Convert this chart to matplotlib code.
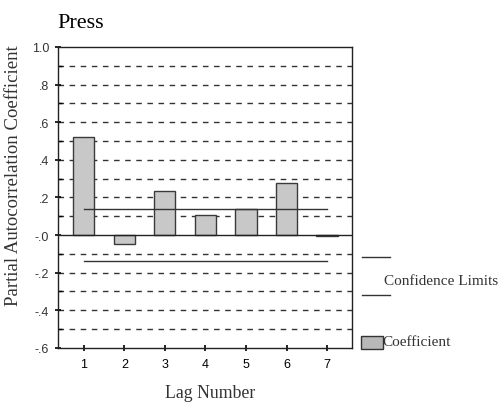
import numpy as np
import matplotlib
matplotlib.use("Agg")
from matplotlib import pyplot as plt
from matplotlib.lines import Line2D
from matplotlib.patches import Rectangle

# partial autocorrelation of the Press series
lags = [1, 2, 3, 4, 5, 6, 7]
pacf = [0.52, -0.048, 0.234, 0.106, 0.138, 0.277, -0.004]
conf_limit = 0.14

ytick_vals = [-0.6, -0.4, -0.2, 0.0, 0.2, 0.4, 0.6, 0.8, 1.0]
ytick_labels = ["-.6", "-.4", "-.2", "-.0", ".2", ".4", ".6", ".8", "1.0"]
grid_vals = [-0.5, -0.4, -0.3, -0.2, -0.1, 0.1, 0.2, 0.3, 0.4, 0.5, 0.6, 0.7, 0.8, 0.9]

serif = ["Liberation Serif", "DejaVu Serif"]
sans = ["Liberation Sans", "DejaVu Sans"]

fig = plt.figure(figsize=(5.02, 4.10), dpi=100)
ax = fig.add_axes([0.1155, 0.149, 0.586, 0.734])

for g in grid_vals:
    ax.axhline(g, color="#333333", lw=1.0, ls=(0, (4, 4)), zorder=1)
ax.axhline(0, color="#222222", lw=1.0, zorder=3)

ax.bar(lags, pacf, width=0.52, color="#c8c8c8", edgecolor="#3a3a3a",
       linewidth=1.0, zorder=2)

ax.plot([lags[0], lags[-1]], [conf_limit, conf_limit], color="#333333", lw=1.0, zorder=4)
ax.plot([lags[0], lags[-1]], [-conf_limit, -conf_limit], color="#333333", lw=1.0, zorder=4)

ax.set_xlim(0.36, 7.62)
ax.set_ylim(-0.6, 1.0)
ax.set_xticks(lags)
ax.set_xticklabels([str(l) for l in lags], fontfamily=sans, fontsize=9)
ax.set_yticks(ytick_vals)
ax.set_yticklabels(ytick_labels, fontfamily=sans, fontsize=9, color="#333333")
ax.set_yticks(grid_vals, minor=True)
ax.tick_params(axis="y", which="major", direction="inout", length=5, width=1.2, pad=4)
ax.tick_params(axis="y", which="minor", direction="in", length=3, width=1.0)
ax.tick_params(axis="x", direction="inout", length=4, width=1.2, pad=5)

for side in ax.spines.values():
    side.set_color("#222222")
    side.set_linewidth(1.0)

fig.text(0.114, 0.943, "Press", fontfamily=serif, fontsize=16, ha="left", va="center")
fig.text(0.026, 0.572, "Partial Autocorrelation Coefficient", fontfamily=serif,
         fontsize=13.5, rotation=90, ha="center", va="center", color="#333333")
fig.text(0.418, 0.041, "Lag Number", fontfamily=serif, fontsize=12.8,
         ha="center", va="center", color="#333333")

# legend drawn outside the axes on the right
fig.add_artist(Line2D([0.721, 0.777], [1 - 258 / 410, 1 - 258 / 410], color="#333333", lw=1.0))
fig.add_artist(Line2D([0.721, 0.777], [1 - 296 / 410, 1 - 296 / 410], color="#333333", lw=1.0))
fig.text(0.764, 1 - 282 / 410, "Confidence Limits", fontfamily=serif, fontsize=11,
         ha="left", va="center", color="#333333")
fig.add_artist(Rectangle((0.719, 1 - 350 / 410), 0.043, 13 / 410,
                         facecolor="#b8b8b8", edgecolor="#333333",
                         lw=1.0, transform=fig.transFigure))
fig.text(0.762, 1 - 343 / 410, "Coefficient", fontfamily=serif, fontsize=11,
         ha="left", va="center", color="#333333")

fig.savefig("out.png", dpi=100)
